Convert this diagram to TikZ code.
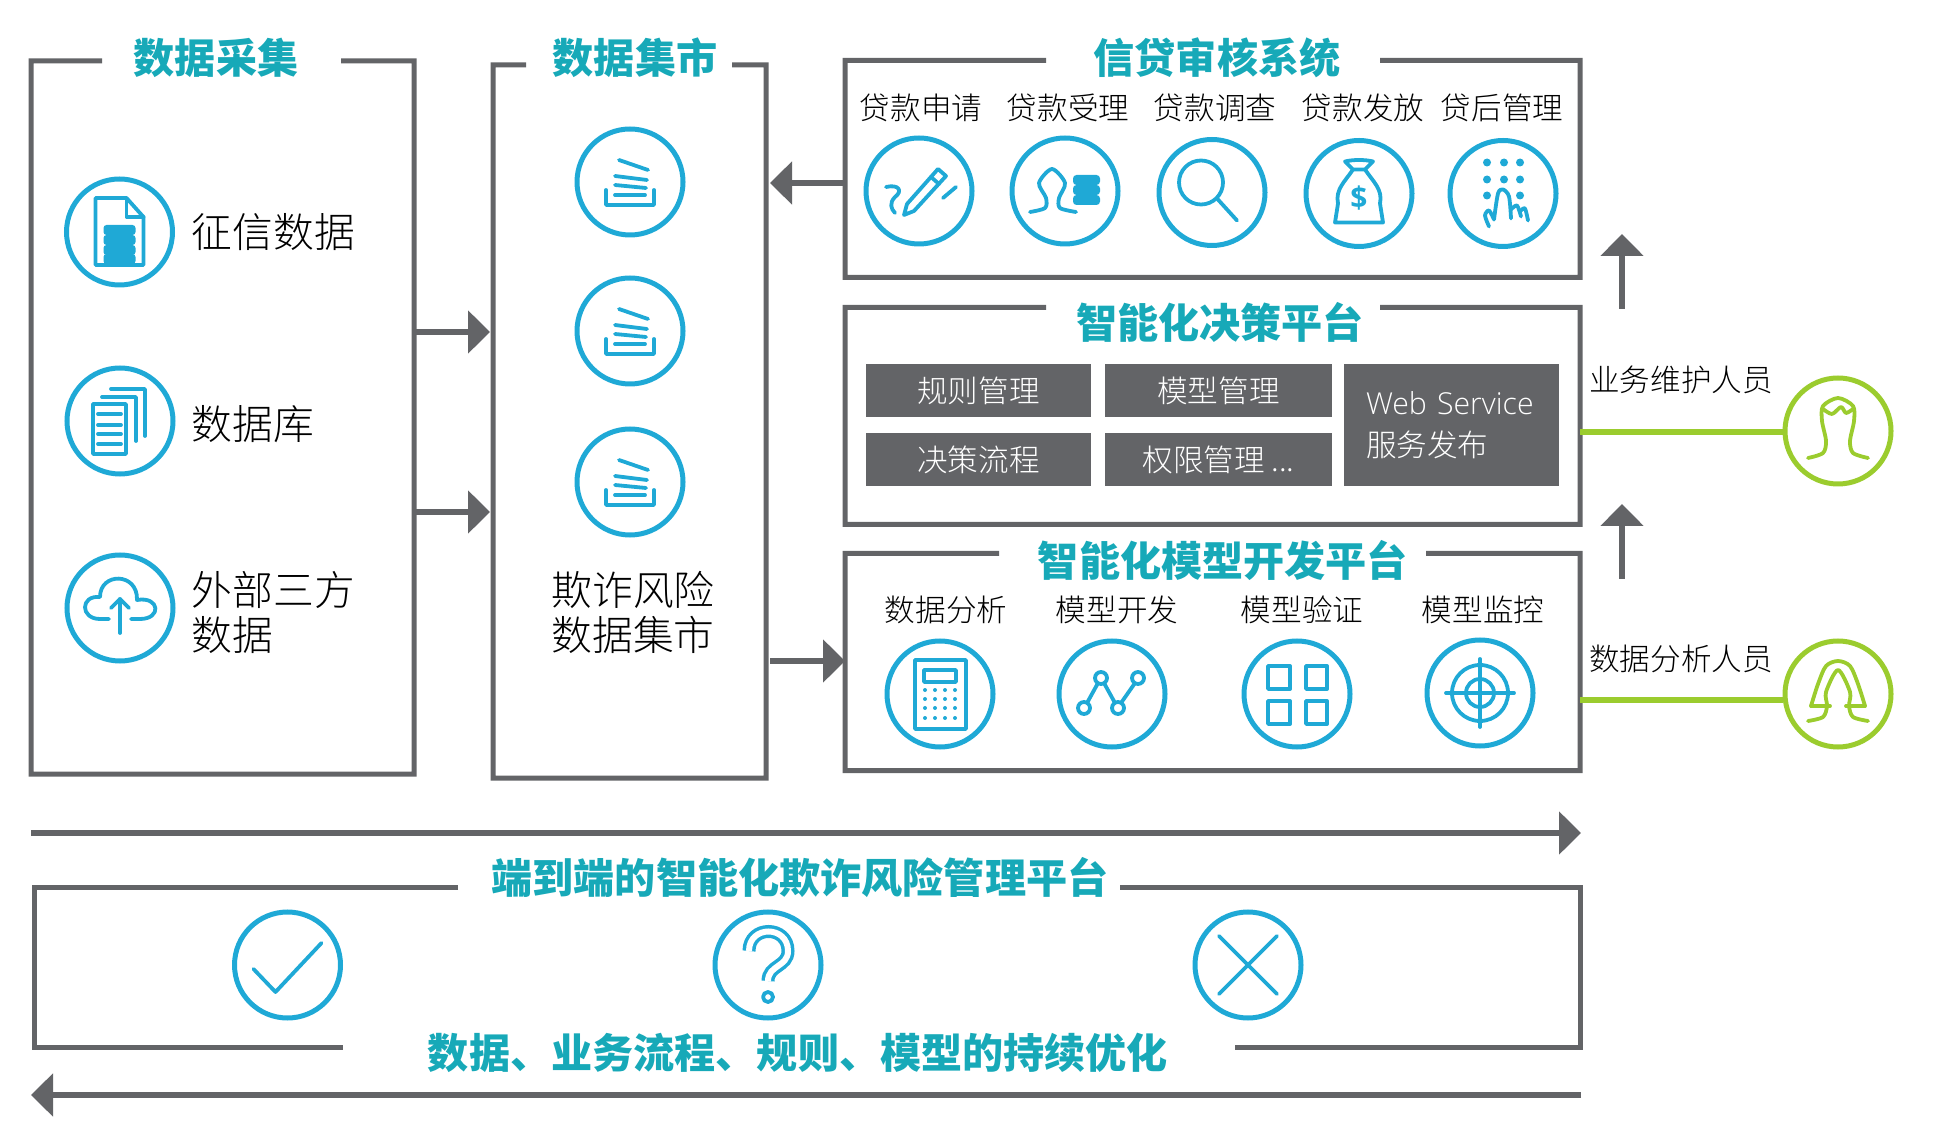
\documentclass[tikz,border=0pt]{standalone}
\usepackage{fontspec}
\usepackage{tikz}
\usetikzlibrary{arrows.meta}
\setmainfont{Noto Sans CJK SC Light}[BoldFont={Noto Sans CJK SC Black}]
\newfontfamily\latinfont{Open Sans Light}
\newfontfamily\signfont{Open Sans}

\definecolor{iconblue}{HTML}{1FA9D6}
\definecolor{headteal}{HTML}{17A9B8}
\definecolor{framegray}{HTML}{636467}
\definecolor{staffgreen}{HTML}{9BCC2E}

\tikzset{
  panel/.style={rectangle, inner sep=0pt, outer sep=0pt},
  frame/.style={draw=framegray, line width=0.05cm},
  title/.style={text=headteal, font=\fontsize{11.7}{14}\selectfont\bfseries, inner sep=0pt},
  biglabel/.style={font=\fontsize{11.6}{12.8}\selectfont, inner sep=0pt},
  smalllabel/.style={font=\fontsize{8.7}{10}\selectfont, inner sep=0pt},
  cell/.style={rectangle, fill=framegray, text=white, font=\fontsize{8.7}{10}\selectfont, inner sep=0pt, minimum height=0.53cm},
  ring/.style={circle, draw=iconblue, line width=0.05cm, minimum size=1.06cm, inner sep=0pt},
  greenring/.style={ring, draw=staffgreen},
  ico/.style={draw=iconblue, line width=0.038cm, line cap=round, line join=round},
  gico/.style={draw=staffgreen, line width=0.038cm, line cap=round, line join=round},
  flow/.style={draw=framegray, line width=0.055cm, -{Triangle[length=0.22cm,width=0.42cm]}, color=framegray},
  staffline/.style={draw=staffgreen, line width=0.055cm}
}

% icons, each drawn round its own ring
\newcommand\iconat[2]{\begin{scope}[shift={(#1.center)}]#2\end{scope}}
\newcommand\icondoc{
  \draw[ico] (-0.24,-0.34) -- (0.07,-0.34) -- (0.24,-0.15) -- (0.24,0.33) -- (-0.24,0.33) -- cycle;
  \draw[ico] (0.07,-0.34) -- (0.07,-0.15) -- (0.24,-0.15);
  \foreach \y in {-0.07,0.03,0.13,0.22} \fill[iconblue, rounded corners=0.03cm] (-0.16,\y) rectangle (0.16,\y+0.10);
}
\newcommand\iconpages{
  \draw[ico] (-0.27,-0.17) rectangle (0.06,0.33);
  \foreach \y in {-0.07,0.04,0.13,0.23} \draw[ico] (-0.22,\y) -- (0.01,\y);
  \draw[ico] (-0.18,-0.24) -- (0.16,-0.24) -- (0.16,0.20);
  \draw[ico] (-0.09,-0.32) -- (0.25,-0.32) -- (0.25,0.15);
}
\newcommand\iconcloud{
  \draw[ico] (-0.11,0.11) -- (-0.20,0.11) .. controls (-0.40,0.11) and (-0.40,-0.13) .. (-0.20,-0.11)
    .. controls (-0.20,-0.36) and (0.18,-0.36) .. (0.17,-0.08)
    .. controls (0.40,-0.12) and (0.42,0.11) .. (0.20,0.11) -- (0.11,0.11);
  \draw[ico] (0,0.25) -- (0,-0.09);
  \draw[ico] (-0.09,0) -- (0,-0.09) -- (0.09,0);
}
\newcommand\iconstack{
  \draw[ico] (-0.24,0.08) -- (-0.24,0.23) -- (0.24,0.23) -- (0.24,0.08);
  \draw[ico] (-0.15,0.13) -- (0.15,0.13);
  \draw[ico] (-0.15,0.03) -- (0.16,0.06);
  \draw[ico] (-0.15,-0.06) -- (0.17,-0.02);
  \draw[ico] (-0.11,-0.22) -- (0.18,-0.12);
}
\newcommand\iconpen{
  \draw[ico] (-0.15,0.24) -- (-0.12,0.13) -- (0.19,-0.22) -- (0.27,-0.15) -- (-0.05,0.20) -- cycle;
  \draw[ico] (0.12,-0.14) -- (0.20,-0.07);
  \draw[ico] (-0.33,-0.04) .. controls (-0.20,-0.07) and (-0.16,0) .. (-0.24,0.06) .. controls (-0.30,0.12) and (-0.28,0.18) .. (-0.24,0.22);
  \draw[ico] (0.37,-0.04) -- (0.24,0.07);
}
\newcommand\iconperson{
  \draw[ico] plot[smooth] coordinates {(-0.35,0.21) (-0.20,0.17) (-0.19,0.07) (-0.26,-0.08) (-0.13,-0.22) (0,-0.08) (-0.06,0.07) (-0.05,0.17) (0.11,0.21)};
  \foreach \y in {-0.16,-0.06,0.04} \fill[iconblue, rounded corners=0.035cm] (0.08,\y) rectangle (0.35,\y+0.10);
}
\newcommand\iconlens{
  \draw[ico] (-0.11,-0.10) circle (0.22);
  \draw[ico] (0.05,0.06) -- (0.25,0.28);
}
\newcommand\iconbag{
  \draw[ico] (-0.06,-0.24) -- (-0.14,-0.32) .. controls (-0.06,-0.34) and (0.06,-0.34) .. (0.14,-0.32) -- (0.06,-0.24) -- cycle;
  \draw[ico] (-0.06,-0.24) .. controls (-0.14,-0.12) and (-0.24,-0.04) .. (-0.21,0.10) -- (-0.24,0.29) -- (0.24,0.29) -- (0.21,0.10) .. controls (0.24,-0.04) and (0.14,-0.12) .. (0.06,-0.24);
  \node[text=iconblue, font=\signfont\fontsize{8.5}{9}\selectfont\bfseries, inner sep=0pt] (bagsign) at (0,0.05) {\$};
}
\newcommand\iconkeys{
  \foreach \x in {-0.16,0.01,0.17} \foreach \y in {-0.31,-0.14} \fill[iconblue] (\x,\y) circle (0.04);
  \fill[iconblue] (-0.16,0.02) circle (0.04);
  \fill[iconblue] (0.17,0.02) circle (0.04);
  \draw[ico] plot[smooth] coordinates {(-0.14,0.33) (-0.18,0.22) (-0.14,0.17) (-0.09,0.26)};
  \draw[ico] plot[smooth] coordinates {(-0.09,0.26) (-0.05,0) (0,-0.04) (0.06,0.03) (0.08,0.25)};
  \draw[ico] plot[smooth] coordinates {(0.08,0.16) (0.14,0.12) (0.18,0.23)};
  \draw[ico] plot[smooth] coordinates {(0.18,0.17) (0.22,0.15) (0.25,0.27)};
}
\newcommand\iconcalc{
  \draw[ico] (-0.25,-0.34) rectangle (0.26,0.35);
  \draw[ico] (-0.16,-0.24) rectangle (0.16,-0.12);
  \foreach \x in {-0.15,-0.05,0.05,0.15} \foreach \y in {-0.04,0.05,0.14,0.24} \fill[iconblue] (\x,\y) circle (0.02);
}
\newcommand\iconchart{
  \draw[ico] (-0.28,0.14) circle (0.06);
  \draw[ico] (-0.11,-0.16) circle (0.06);
  \draw[ico] (0.06,0.14) circle (0.06);
  \draw[ico] (0.26,-0.16) circle (0.06);
  \draw[ico] (-0.25,0.09) -- (-0.14,-0.11);
  \draw[ico] (-0.08,-0.11) -- (0.03,0.09);
  \draw[ico] (0.09,0.09) -- (0.23,-0.11);
}
\newcommand\icongrid{
  \draw[ico] (-0.29,-0.28) rectangle (-0.07,-0.05);
  \draw[ico] (0.09,-0.28) rectangle (0.30,-0.05);
  \draw[ico] (-0.29,0.07) rectangle (-0.07,0.30);
  \draw[ico] (0.09,0.07) rectangle (0.30,0.30);
}
\newcommand\icontarget{
  \draw[ico] (0,0) circle (0.28);
  \draw[ico] (0,0) circle (0.14);
  \draw[ico] (-0.34,0) -- (0.34,0);
  \draw[ico] (0,-0.34) -- (0,0.34);
}
\newcommand\iconcheck{
  \draw[ico] (-0.34,0.04) -- (-0.12,0.27) -- (0.34,-0.22);
}
\newcommand\iconquery{
  \draw[iconblue, line width=0.035cm, double=white, double distance=0.06cm, line cap=butt]
    (-0.19,-0.14) .. controls (-0.19,-0.40) and (0.20,-0.40) .. (0.20,-0.14) .. controls (0.20,0.02) and (0,0) .. (0,0.16);
  \draw[ico] (0,0.32) circle (0.05);
}
\newcommand\iconcross{
  \draw[ico] (-0.29,-0.29) -- (0.29,0.29);
  \draw[ico] (-0.29,0.29) -- (0.29,-0.29);
}
\newcommand\iconman{
  \draw[gico] plot[smooth] coordinates {(-0.30,0.27) (-0.15,0.22) (-0.12,0.10) (-0.16,-0.10) (-0.15,-0.25) (0,-0.33) (0.15,-0.25) (0.16,-0.10) (0.12,0.10) (0.15,0.22) (0.30,0.27)};
  \draw[gico] plot[smooth] coordinates {(-0.15,-0.22) (-0.06,-0.17) (0.03,-0.24) (0.08,-0.18) (0.15,-0.22)};
}
\newcommand\iconwoman{
  \draw[gico] plot[smooth] coordinates {(-0.27,0.12) (-0.20,-0.10) (-0.12,-0.28) (0,-0.33) (0.12,-0.28) (0.20,-0.10) (0.27,0.12)};
  \draw[gico] (-0.27,0.12) -- (-0.08,0.12);
  \draw[gico] (0.27,0.12) -- (0.08,0.12);
  \draw[gico] plot[smooth] coordinates {(-0.30,0.27) (-0.15,0.23) (-0.11,0.12) (-0.12,-0.02) (0,-0.24) (0.12,-0.02) (0.11,0.12) (0.15,0.23) (0.30,0.27)};
}

\begin{document}
\begin{tikzpicture}[yscale=-1]
  \useasboundingbox (0,0) rectangle (19.4,11.44);

  % panels
  \node[panel, minimum width=3.83cm,  minimum height=7.13cm] (collect) at (2.225,4.175) {};
  \node[panel, minimum width=2.73cm,  minimum height=7.13cm] (mart)    at (6.295,4.215) {};
  \node[panel, minimum width=7.35cm,  minimum height=2.17cm] (review)  at (12.125,1.69) {};
  \node[panel, minimum width=7.35cm,  minimum height=2.17cm] (decide)  at (12.125,4.16) {};
  \node[panel, minimum width=7.35cm,  minimum height=2.17cm] (model)   at (12.125,6.62) {};
  \node[panel, minimum width=15.46cm, minimum height=1.60cm] (whole)   at (8.07,9.67)   {};

  \draw[frame] (1.02,0.61)  -- (collect.north west) -- (collect.south west) -- (collect.south east) -- (collect.north east) -- (3.41,0.61);
  \draw[frame] (5.26,0.65)  -- (mart.north west)    -- (mart.south west)    -- (mart.south east)    -- (mart.north east)    -- (7.32,0.65);
  \draw[frame] (10.46,0.605) -- (review.north west)  -- (review.south west)  -- (review.south east)  -- (review.north east)  -- (13.80,0.605);
  \draw[frame] (10.46,3.075) -- (decide.north west)  -- (decide.south west)  -- (decide.south east)  -- (decide.north east)  -- (13.80,3.075);
  \draw[frame] (9.99,5.535) -- (model.north west)   -- (model.south west)   -- (model.south east)   -- (model.north east)   -- (14.26,5.535);
  \draw[frame] (4.58,8.87)  -- (whole.north west)   -- (whole.south west)   -- (3.43,10.47);
  \draw[frame] (11.20,8.87) -- (whole.north east)   -- (whole.south east)   -- (12.35,10.47);

  % headings
  \node[title] (collecthead) at (2.16,0.58)  {数据采集};
  \node[title] (marthead)    at (6.35,0.58)  {数据集市};
  \node[title] (reviewhead)  at (12.17,0.58) {信贷审核系统};
  \node[title] (decidehead)  at (12.20,3.22) {智能化决策平台};
  \node[title] (modelhead)   at (12.23,5.60) {智能化模型开发平台};
  \node[title] (wholehead)   at (8.00,8.78)  {端到端的智能化欺诈风险管理平台};
  \node[title] (loophead)    at (7.98,10.53) {数据、业务流程、规则、模型的持续优化};

  % data collection
  \node[ring] (credit) at (1.195,2.32) {};
  \node[ring] (dbase)  at (1.20,4.21) {};
  \node[ring] (third)  at (1.20,6.08) {};
  \iconat{credit}{\icondoc}
  \iconat{dbase}{\iconpages}
  \iconat{third}{\iconcloud}
  \node[biglabel, anchor=west] (creditlabel) at (1.91,2.32) {征信数据};
  \node[biglabel, anchor=west] (dbaselabel)  at (1.91,4.24) {数据库};
  \node[biglabel, anchor=west, align=left] (thirdlabel) at (1.91,6.125) {外部三方\\数据};

  % data marts
  \node[ring] (martA) at (6.30,1.82) {};
  \node[ring] (martB) at (6.30,3.31) {};
  \node[ring] (martC) at (6.30,4.82) {};
  \iconat{martA}{\iconstack}
  \iconat{martB}{\iconstack}
  \iconat{martC}{\iconstack}
  \node[biglabel, align=center] (martlabel) at (6.33,6.125) {欺诈风险\\数据集市};

  % credit review
  \node[smalllabel] (applylabel)  at (9.21,1.08)  {贷款申请};
  \node[smalllabel] (acceptlabel) at (10.68,1.08) {贷款受理};
  \node[smalllabel] (surveylabel) at (12.15,1.08) {贷款调查};
  \node[smalllabel] (paylabel)    at (13.63,1.08) {贷款发放};
  \node[smalllabel] (afterlabel)  at (15.02,1.08) {贷后管理};
  \node[ring] (apply)  at (9.19,1.91)   {};
  \node[ring] (accept) at (10.65,1.91) {};
  \node[ring] (survey) at (12.12,1.925) {};
  \node[ring] (pay)    at (13.59,1.935) {};
  \node[ring] (after)  at (15.03,1.935) {};
  \iconat{apply}{\iconpen}
  \iconat{accept}{\iconperson}
  \iconat{survey}{\iconlens}
  \iconat{pay}{\iconbag}
  \iconat{after}{\iconkeys}

  % decision platform
  \node[cell, minimum width=2.25cm] (rules)  at (9.785,3.91)  {规则管理};
  \node[cell, minimum width=2.27cm] (models) at (12.185,3.91) {模型管理};
  \node[cell, minimum width=2.25cm] (flows)  at (9.785,4.595) {决策流程};
  \node[cell, minimum width=2.27cm] (rights) at (12.185,4.595) {权限管理 ...};
  \node[cell, minimum width=2.15cm, minimum height=1.22cm, align=left, text width=1.71cm] (webserv) at (14.515,4.255) {{\latinfont\fontsize{8.6}{10}\selectfont Web Service}\\[0.07cm]服务发布};

  % model platform
  \node[smalllabel] (analyselabel) at (9.46,6.10)  {数据分析};
  \node[smalllabel] (buildlabel)   at (11.17,6.10) {模型开发};
  \node[smalllabel] (checklabel)   at (13.02,6.10) {模型验证};
  \node[smalllabel] (watchlabel)   at (14.83,6.10) {模型监控};
  \node[ring] (analyse) at (9.40,6.94)  {};
  \node[ring] (build)   at (11.12,6.94) {};
  \node[ring] (verify)  at (12.97,6.94) {};
  \node[ring] (watch)   at (14.80,6.93) {};
  \iconat{analyse}{\iconcalc}
  \iconat{build}{\iconchart}
  \iconat{verify}{\icongrid}
  \iconat{watch}{\icontarget}

  % end to end platform
  \node[ring] (okay)   at (2.875,9.65) {};
  \node[ring] (query)  at (7.68,9.65)  {};
  \node[ring] (refuse) at (12.48,9.65) {};
  \iconat{okay}{\iconcheck}
  \iconat{query}{\iconquery}
  \iconat{refuse}{\iconcross}

  % staff
  \node[greenring] (bizstaff)  at (18.38,4.31) {};
  \node[greenring] (datastaff) at (18.38,6.94) {};
  \iconat{bizstaff}{\iconman}
  \iconat{datastaff}{\iconwoman}
  \node[smalllabel] (bizlabel)  at (16.81,3.80) {业务维护人员};
  \node[smalllabel] (datalabel) at (16.81,6.59) {数据分析人员};
  \coordinate (bizline)  at (15.80,4.32);
  \coordinate (dataline) at (15.80,7.00);
  \draw[staffline] (decide.east |- bizline)  -- (bizstaff.west |- bizline);
  \draw[staffline] (model.east  |- dataline) -- (datastaff.west |- dataline);

  % arrows
  \coordinate (flowA)   at (4.14,3.32);
  \coordinate (flowB)   at (4.14,5.12);
  \coordinate (flowC)   at (8.45,1.83);
  \coordinate (flowD)   at (7.70,6.61);
  \coordinate (upAfoot) at (16.22,3.09);
  \coordinate (upAtop)  at (16.22,2.34);
  \coordinate (upBfoot) at (16.22,5.79);
  \coordinate (upBtop)  at (16.22,5.04);
  \coordinate (topleft)   at (0.31,8.33);
  \coordinate (topright)  at (15.81,8.33);
  \coordinate (lowright)  at (15.81,10.95);
  \coordinate (lowleft)   at (0.31,10.95);
  \draw[flow, shorten >=0.03cm] (flowA) -- (mart.west |- flowA);
  \draw[flow, shorten >=0.03cm] (flowB) -- (mart.west |- flowB);
  \draw[flow, shorten >=0.04cm] (flowC) -- (mart.east |- flowC);
  \draw[flow] (flowD) -- (model.west |- flowD);
  \draw[flow] (upAfoot) -- (upAtop);
  \draw[flow] (upBfoot) -- (upBtop);
  \draw[flow] (topleft) -- (topright);
  \draw[flow] (lowright) -- (lowleft);
\end{tikzpicture}
\end{document}
